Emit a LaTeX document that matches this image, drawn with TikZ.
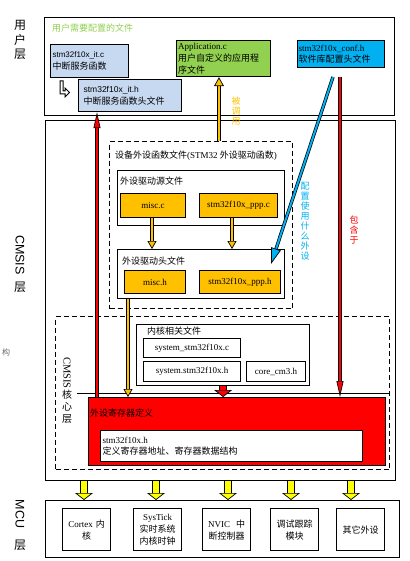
\documentclass[tikz,border=0pt]{standalone}
\usepackage{fontspec}
\setmainfont{Liberation Serif}
\newfontfamily\cjk{Noto Sans CJK SC}
\newfontfamily\arialf{Liberation Sans}
\usepackage{xcolor}
\usetikzlibrary{arrows.meta,positioning}

\definecolor{itblue}{HTML}{C6D9F1}
\definecolor{appgreen}{HTML}{92D050}
\definecolor{confblue}{HTML}{00B0F0}
\definecolor{fileorange}{HTML}{FFC000}
\definecolor{regred}{HTML}{FF0000}
\definecolor{mcuyellow}{HTML}{FFFF00}

\newcommand{\zh}[1]{{\cjk #1}}

\begin{document}
\begin{tikzpicture}[x=1pt, y=-1pt,
    layer/.style={draw, line width=1pt, anchor=north west, inner sep=0pt},
    filebox/.style={draw, line width=1.2pt, anchor=north west, inner xsep=2pt, inner ysep=1pt, align=left, font=\fontsize{9}{11.5}\selectfont},
    dashbox/.style={draw, dash pattern=on 5pt off 3pt, line width=1.1pt, anchor=north west, inner sep=0pt},
    title/.style={anchor=west, inner sep=0pt, font=\cjk\fontsize{9}{11}\selectfont},
    vtext/.style={align=center, inner sep=0pt, font=\cjk\fontsize{9}{10}\selectfont},
    mcubox/.style={draw, line width=1.2pt, anchor=north west, minimum width=48pt, minimum height=42pt, text width=44pt, align=center, inner sep=2pt, font=\fontsize{9}{12}\selectfont},
    oarrow/.style={line width=0.7pt, double=fileorange, double distance=2.6pt, -{Triangle[length=9pt,width=10pt,line width=0.7pt,fill=fileorange]}},
    rarrow/.style={line width=0.7pt, double=regred, double distance=2pt, -{Triangle[length=16pt,width=7pt,line width=0.7pt,fill=regred]}},
    barrow/.style={line width=0.7pt, double=confblue, double distance=2pt, -{Triangle[length=16pt,width=10pt,line width=0.7pt,fill=confblue]}},
    bigarrow/.style={line width=0.7pt, double=#1, double distance=6pt, -{Triangle[length=7pt,width=18pt,line width=0.7pt,fill=#1]}}
]
\useasboundingbox (0,0) rectangle (409,561);

% three layers
\node[layer, minimum width=350pt, minimum height=98pt] (userlayer) at (44,17) {};
\node[layer, minimum width=350pt, minimum height=360pt] (cmsislayer) at (45,120) {};
\node[layer, minimum width=354pt, minimum height=57pt] (mculayer) at (45,500) {};

\node[vtext, font=\cjk\fontsize{12}{14.5}\selectfont] (userlbl) at (20,40) {用\\户\\层};
\node[rotate=-90, inner sep=0pt, font=\arialf\fontsize{12.5}{14}\selectfont] (cmsislbl) at (20,255) {CMSIS};
\node[inner sep=0pt, font=\cjk\fontsize{12}{14}\selectfont] (cmsisceng) at (20,287) {层};
\node[rotate=-90, inner sep=0pt, font=\arialf\fontsize{12.5}{14}\selectfont] (mculbl) at (20,514) {MCU};
\node[inner sep=0pt, font=\cjk\fontsize{12}{14}\selectfont] (mcuceng) at (20,545) {层};
\node[inner sep=0pt, text=black!60, font=\cjk\fontsize{8}{10}\selectfont] (cutchar) at (6,352) {构};

% user layer
\node[title, text=appgreen] (usertitle) at (52,28) {用户需要配置的文件};
\node[filebox, fill=itblue, minimum width=78pt, minimum height=33pt, text width=74pt] (itc) at (50,44)
    {{\arialf\fontsize{8}{10}\selectfont stm32f10x\_it.c}\\\zh{中断服务函数}};
\node[filebox, fill=itblue, minimum width=103pt, minimum height=32pt, text width=93pt, inner xsep=5pt] (ith) at (78,79)
    {{\arialf\fontsize{8.5}{10}\selectfont stm32f10x\_it.h}\\\zh{中断服务函数头文件}};
\draw[line width=1pt, fill=white] (60,81) -- (63,81) -- (63,91) -- (65,91) -- (65,88) -- (69.5,92.5)
    -- (65,97) -- (65,94) -- (60,94) -- cycle;
\node[filebox, fill=appgreen, minimum width=94pt, minimum height=36pt, text width=91pt, inner xsep=1.5pt, font=\fontsize{9}{12}\selectfont] (app) at (176,40)
    {Application.c\\\zh{用户自定义的应用程}\\\zh{序文件}};
\node[filebox, fill=confblue, minimum width=87pt, minimum height=27pt, text width=85pt, inner xsep=1pt] (conf) at (297,40)
    {stm32f10x\_conf.h\\\zh{软件库配置头文件}};

% peripheral driver files
\node[dashbox, minimum width=183pt, minimum height=167pt] (drvfunc) at (109,141) {};
\node[title, font=\fontsize{9}{11}\selectfont] (drvtitle) at (115,156) {\zh{设备外设函数文件}(STM32 \zh{外设驱动函数})};
\node[filebox, minimum width=167pt, minimum height=55pt] (srcbox) at (117,170) {};
\node[title] (srctitle) at (120,181) {外设驱动源文件};
\node[filebox, fill=fileorange, minimum width=65pt, minimum height=24pt, align=center] (miscc) at (120,193) {misc.c};
\node[filebox, fill=fileorange, minimum width=78pt, minimum height=24pt, align=center, inner xsep=0pt] (pppc) at (199,193) {stm32f10x\_ppp.c};
\node[filebox, minimum width=167pt, minimum height=49pt] (hdrbox) at (117,249) {};
\node[title] (hdrtitle) at (122,261) {外设驱动头文件};
\node[filebox, fill=fileorange, minimum width=61pt, minimum height=23pt, align=center] (misch) at (124,270) {misc.h};
\node[filebox, fill=fileorange, minimum width=81pt, minimum height=23pt, align=center] (ppph) at (199,270) {stm32f10x\_ppp.h};

% CMSIS core layer
\node[dashbox, minimum width=334pt, minimum height=153pt] (coredash) at (55,316) {};
\node[rotate=-90, inner sep=0pt, font=\fontsize{10.5}{12}\selectfont] (corelbl) at (67,373) {CMSIS};
\node[vtext, font=\cjk\fontsize{10}{12}\selectfont] (coreceng) at (67,407) {核\\心\\层};
\coordinate (coreline) at (77,393);
\draw[line width=0.8pt] (coreline) -- (coreline -| coredash.east);
\node[filebox, minimum width=173pt, minimum height=61pt] (kernbox) at (136,324) {};
\node[title] (kerntitle) at (147,331) {内核相关文件};
\node[filebox, minimum width=97pt, minimum height=19pt] (sysc) at (143,338) {system\_stm32f10x.c};
\node[filebox, minimum width=97pt, minimum height=20pt] (sysh) at (143,361) {system.stm32f10x.h};
\node[filebox, minimum width=59pt, minimum height=20pt, align=center] (cm3) at (246,361) {core\_cm3.h};
\node[filebox, fill=regred, minimum width=297pt, minimum height=68pt] (regbox) at (88,397) {};
\node[title] (regtitle) at (90,413) {外设寄存器定义};
\node[filebox, fill=white, minimum width=262pt, minimum height=31pt, text width=258pt] (regh) at (100,430)
    {stm32f10x.h\\\zh{定义寄存器地址、寄存器数据结构}};

% MCU layer
\node[mcubox] (cortex) at (62,508) {Cortex \zh{内}\\\zh{核}};
\node[mcubox] (systick) at (133,508) {SysTick\\\zh{实时系统}\\\zh{内核时钟}};
\node[mcubox] (nvic) at (202,508) {NVIC\ \ \zh{中}\\\zh{断控制器}};
\node[mcubox] (debug) at (270,508) {\zh{调试跟踪}\\\zh{模块}};
\node[mcubox] (other) at (336,508) {\zh{其它外设}};

% connectors
\draw[oarrow] (drvfunc.north -| 219,0) -- (app.south -| 219,0);
\node[vtext, text=fileorange] (calllbl) at (236,111) {被\\调\\用};
\draw[oarrow, -{Triangle[length=8pt,width=9pt,line width=0.7pt,fill=fileorange]}] (miscc.south -| 152,0) -- (hdrbox.north -| 152,0);
\draw[oarrow, -{Triangle[length=8pt,width=9pt,line width=0.7pt,fill=fileorange]}] (pppc.south -| 232,0) -- (hdrbox.north -| 232,0);
\draw[oarrow, -{Triangle[length=8pt,width=9pt,line width=0.7pt,fill=fileorange]}] (hdrbox.south -| 128,0) -- (regbox.north -| 128,0);

\coordinate (cfgfrom) at (333,77);
\coordinate (cfgto) at (271,264);
\draw[barrow] (cfgfrom) -- (cfgto);
\node[vtext, text=confblue] (cfglbl) at (305,221) {配\\置\\使\\用\\什\\么\\外\\设};

\coordinate (incfrom) at (340,77);
\draw[rarrow] (incfrom) -- (regbox.north -| incfrom);
\node[vtext, text=regred] (inclbl) at (354,230) {包\\含\\于};
\draw[rarrow] (regbox.north -| 97,0) -- (ith.south -| 97,0);

\draw[bigarrow=regred] (kernbox.south) -- (kernbox.south |- regbox.north);
\foreach \ax in {84,156,228,291,351}
    \draw[bigarrow=mcuyellow] (\ax,0 |- cmsislayer.south) -- (\ax,0 |- mculayer.north);

\end{tikzpicture}
\end{document}
